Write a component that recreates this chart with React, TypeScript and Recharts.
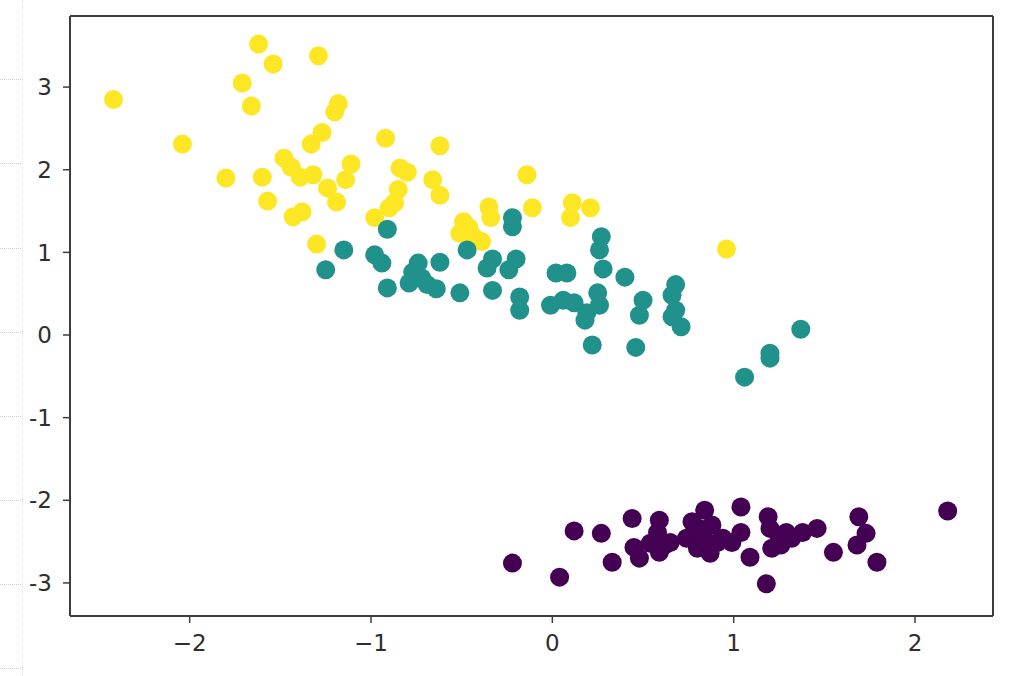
import { ReferenceLine, Scatter, ScatterChart, XAxis, YAxis } from "recharts";

// cluster points, [x, y]
const yellowPts: [number, number][] = [
  [-2.42, 2.85], [-2.04, 2.31], [-1.8, 1.9], [-1.71, 3.05], [-1.66, 2.77],
  [-1.62, 3.52], [-1.54, 3.28], [-1.6, 1.91], [-1.57, 1.62], [-1.29, 3.38],
  [-1.18, 2.8], [-1.2, 2.7], [-1.27, 2.45], [-1.33, 2.31], [-1.48, 2.14],
  [-1.44, 2.03], [-1.39, 1.91], [-1.32, 1.94], [-1.11, 2.07], [-1.14, 1.88],
  [-1.24, 1.78], [-1.19, 1.61], [-1.43, 1.43], [-1.38, 1.49], [-1.3, 1.1],
  [-0.98, 1.42], [-0.92, 2.38], [-0.84, 2.02], [-0.8, 1.97], [-0.85, 1.76],
  [-0.87, 1.6], [-0.9, 1.54], [-0.62, 2.29], [-0.66, 1.88], [-0.62, 1.69],
  [-0.49, 1.37], [-0.51, 1.23], [-0.47, 1.23], [-0.44, 1.2], [-0.39, 1.13],
  [-0.35, 1.55], [-0.34, 1.42], [-0.14, 1.94], [-0.11, 1.54], [0.11, 1.6],
  [0.1, 1.42], [0.21, 1.54], [0.96, 1.04], [-0.46, 1.3], [-0.42, 1.16],
];

const tealPts: [number, number][] = [
  [-1.25, 0.79], [-1.15, 1.03], [-0.91, 1.28], [-0.98, 0.97], [-0.94, 0.87],
  [-0.91, 0.57], [-0.74, 0.87], [-0.77, 0.76], [-0.79, 0.63], [-0.72, 0.69],
  [-0.69, 0.61], [-0.64, 0.56], [-0.62, 0.88], [-0.51, 0.51], [-0.47, 1.03],
  [-0.33, 0.92], [-0.36, 0.81], [-0.2, 0.92], [-0.24, 0.79], [-0.22, 1.42],
  [-0.22, 1.31], [-0.33, 0.54], [-0.18, 0.46], [-0.18, 0.3], [0.02, 0.75],
  [0.08, 0.75], [-0.01, 0.36], [0.06, 0.42], [0.12, 0.39], [0.19, 0.27],
  [0.25, 0.51], [0.26, 0.36], [0.18, 0.18], [0.27, 1.19], [0.26, 1.03],
  [0.28, 0.8], [0.4, 0.7], [0.22, -0.12], [0.5, 0.42], [0.48, 0.24],
  [0.46, -0.15], [0.68, 0.61], [0.66, 0.48], [0.68, 0.3], [0.66, 0.22],
  [0.71, 0.1], [1.37, 0.07], [1.2, -0.22], [1.2, -0.28], [1.06, -0.51],
];

const purplePts: [number, number][] = [
  [-0.22, -2.76], [0.04, -2.93], [0.12, -2.37], [0.27, -2.4], [0.33, -2.75],
  [0.44, -2.22], [0.45, -2.57], [0.48, -2.7], [0.59, -2.24], [0.58, -2.39],
  [0.54, -2.52], [0.62, -2.54], [0.65, -2.51], [0.59, -2.63], [0.77, -2.26],
  [0.74, -2.46], [0.84, -2.12], [0.81, -2.34], [0.88, -2.3], [0.8, -2.58],
  [0.87, -2.64], [0.91, -2.51], [0.94, -2.46], [1.04, -2.08], [1.04, -2.39],
  [0.99, -2.51], [1.09, -2.69], [1.18, -3.01], [1.19, -2.2], [1.2, -2.34],
  [1.21, -2.58], [1.29, -2.39], [1.26, -2.54], [1.32, -2.46], [1.38, -2.39],
  [1.46, -2.34], [1.55, -2.63], [1.69, -2.2], [1.73, -2.4], [1.68, -2.54],
  [1.79, -2.75], [2.18, -2.13], [0.84, -2.48], [1.25, -2.43],
];

const xTicks = [-2, -1, 0, 1, 2];
const yTicks = [-3, -2, -1, 0, 1, 2, 3];
const xDomain: [number, number] = [-2.66, 2.43];
const yDomain: [number, number] = [-3.4, 3.86];

const toRows = (pts: [number, number][]) => pts.map(([x, y]) => ({ x, y }));

const FRAME = "#3d3d3d";
const tickStyle = { fill: "#2e2e2e", fontSize: 23, fontFamily: "DejaVu Sans" };

const dot = (color: string) => (p: any) => (
  <circle cx={p.cx} cy={p.cy} r={9.5} fill={color} />
);

// faint dotted cell lines at the left edge of the screenshot
const gutterRows = [79, 163, 248, 332, 416, 500, 584, 668];

function Gutter() {
  return (
    <>
      {gutterRows.map((top) => (
        <div
          key={top}
          style={{ position: "absolute", left: 0, top, width: 21, borderTop: "1px dotted #cfcfcf" }}
        />
      ))}
      <div
        style={{ position: "absolute", left: 22, top: 0, height: 676, borderLeft: "1px dotted #e2e2e2" }}
      />
    </>
  );
}

export default function App() {
  return (
    <div style={{ position: "absolute", left: 0, top: 0, width: 1010, height: 676, background: "#fff" }}>
      <Gutter />
      <ScatterChart
        width={1010}
        height={676}
        margin={{ top: 16, right: 17, bottom: 20, left: 30 }}
      >
        <XAxis
          type="number"
          dataKey="x"
          domain={xDomain}
          ticks={xTicks}
          interval={0}
          allowDataOverflow
          height={40}
          tickSize={7}
          tickMargin={12}
          tick={tickStyle}
          tickFormatter={(v: number) => (v < 0 ? `\u2212${-v}` : `${v}`)}
          axisLine={{ stroke: FRAME, strokeWidth: 2 }}
          tickLine={{ stroke: FRAME, strokeWidth: 1.5 }}
        />
        <YAxis
          type="number"
          dataKey="y"
          domain={yDomain}
          ticks={yTicks}
          interval={0}
          allowDataOverflow
          width={40}
          tickSize={7}
          tickMargin={11}
          tick={tickStyle}
          axisLine={{ stroke: FRAME, strokeWidth: 2 }}
          tickLine={{ stroke: FRAME, strokeWidth: 1.5 }}
        />
        <Scatter data={toRows(purplePts)} isAnimationActive={false} shape={dot("#440154")} />
        <Scatter data={toRows(yellowPts)} isAnimationActive={false} shape={dot("#fde725")} />
        <Scatter data={toRows(tealPts)} isAnimationActive={false} shape={dot("#21918c")} />
        <ReferenceLine y={yDomain[1]} stroke={FRAME} strokeWidth={2} />
        <ReferenceLine x={xDomain[1]} stroke={FRAME} strokeWidth={2} />
      </ScatterChart>
    </div>
  );
}
